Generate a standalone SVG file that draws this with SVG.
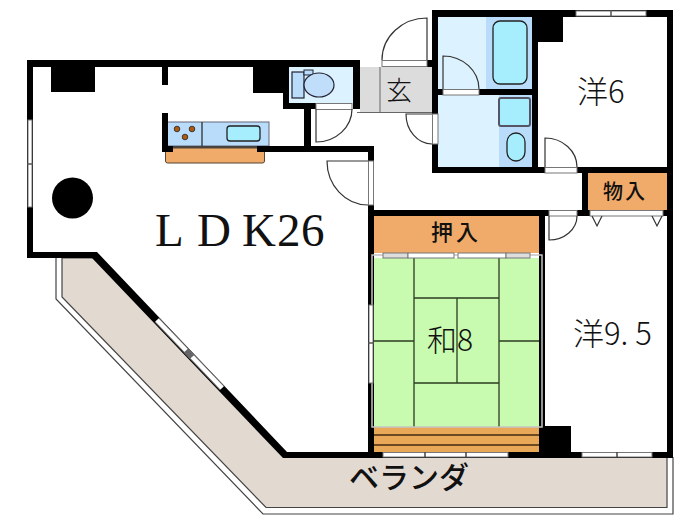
<svg xmlns="http://www.w3.org/2000/svg" width="700" height="525" viewBox="0 0 700 525">
<style>
.w{fill:#000}
.o{fill:#f0aa6a}
.p{fill:#fff;stroke:#777;stroke-width:1}
.l{fill:none;stroke:#333;stroke-width:1.2}
.m{stroke:#2c3c20;stroke-width:1.3;fill:none}
.j{font-family:"Noto Sans CJK JP","Noto Sans",sans-serif;fill:#111}
.s{font-family:"Liberation Serif",serif;fill:#111}
</style>
<rect width="700" height="525" fill="#fff"/>
<g id="balcony">
<path d="M56 258V299L263 514H673V457" fill="none" stroke="#444" stroke-width="1.2"/>
<path d="M62 258V297L266 507.500H667V457H285L95 258Z" fill="#e2d9d0" stroke="#444" stroke-width="1.200"/>
</g>
<g id="fills">
<rect x="438" y="17" width="94" height="72" fill="#ddf2ff"/>
<rect x="486" y="17" width="46" height="72" fill="#b8dcfa"/>
<rect x="493" y="21" width="34" height="63" rx="7" fill="#a6eefd" stroke="#222" stroke-width="1.300"/>
<rect x="438" y="95" width="94" height="72" fill="#ddf2ff"/>
<rect x="499" y="95" width="33" height="72" fill="#b8dcfa"/>
<rect x="499" y="98" width="31" height="28" rx="2" fill="#a6eefd" stroke="#556" stroke-width="2"/>
<rect x="507" y="133" width="18" height="28" rx="9" fill="#a6eefd" stroke="#222" stroke-width="1.300"/>
<rect x="289" y="67" width="64" height="36" fill="#ddf2ff"/>
<rect x="292" y="72" width="12" height="26" fill="#b8dcfa" stroke="#223" stroke-width="1.200"/>
<rect x="304" y="70" width="9" height="5" fill="#b8dcfa" stroke="#223" stroke-width="1"/>
<ellipse cx="319" cy="85" rx="15" ry="12" fill="#c0defa" stroke="#223" stroke-width="1.200"/>
<rect x="360" y="67" width="72" height="45" fill="#dcdcdc"/>
<path d="M357 112.500H432M380 67V112" fill="none" stroke="#666" stroke-width="1"/>
<rect x="167" y="122" width="102" height="24" fill="#b8dcfa" stroke="#667" stroke-width="1"/>
<path d="M202 122V146" stroke="#222" stroke-width="1.200"/>
<rect x="227" y="126" width="33" height="15" rx="3" fill="#a6eefd" stroke="#222" stroke-width="1.300"/>
<circle cx="177" cy="129" r="2.800" fill="#b05a10" stroke="#222" stroke-width=".8"/>
<circle cx="192" cy="129" r="2.800" fill="#b05a10" stroke="#222" stroke-width=".8"/>
<circle cx="185" cy="137" r="2.800" fill="#b05a10" stroke="#222" stroke-width=".8"/>
<path d="M167 147H265" stroke="#444" stroke-width="2"/>
<rect x="165.500" y="148" width="99" height="15" rx="2" class="o" stroke="#543" stroke-width="1"/>
<rect x="588" y="173" width="79" height="37" class="o"/>
<rect x="374" y="216" width="165" height="37" class="o"/>
</g>
<g id="tatami">
<rect x="374" y="258" width="165" height="169" fill="#c8fab0"/>
<path class="m" d="M414 258V427M499 258V427M414 298H499M414 383H499M457 298V383M374 341H414M499 341H539"/>
<rect x="374" y="427" width="165" height="25" fill="#e8a858"/>
<path d="M374 435H539M374 445H539" stroke="#442a10" stroke-width="1.300"/>
</g>
<g id="walls">
<path class="w" d="M27 60H283V67H27ZM27 60H33V258H27ZM27 252H97L287 452H673V458H283L92 258H27ZM51 67H95V92H51ZM253 67H283V93H253ZM283 60H360V67H283ZM283 60H289V109H283ZM283 103H316V109H283ZM353 60H360V109H353ZM304 109H311V152H304ZM162 67H168V85H162ZM162 113H168V152H162ZM162 146H173V152H162ZM257 146H374V152H257ZM368 146H374V205H368ZM368 205H374V452H368ZM427 60H438V67H427ZM432 10H673V17H432ZM432 10H438V173H432ZM532 10H538V173H532ZM438 89H532V95H438ZM432 167H667V173H432ZM537 17H563V42H537ZM667 10H673V458H667ZM582 173H588V216H582ZM368 210H673V216H368ZM539 216H545V452H539ZM539 426H571V452H539Z"/>
</g>
<g id="openings">
<rect x="382" y="60.500" width="45" height="6" class="p"/>
<rect x="316" y="103.500" width="36" height="6" class="p"/>
<rect x="432.500" y="114" width="5.500" height="30" class="p"/>
<rect x="443" y="89.500" width="36" height="5.500" class="p"/>
<rect x="545" y="167.500" width="32" height="5.500" class="p"/>
<rect x="549" y="210.500" width="28" height="5.500" class="p"/>
<rect x="590" y="210.500" width="73" height="5.500" class="p"/>
<rect x="368.500" y="161" width="5" height="44" class="p"/>
<path class="l" d="M427 60V18A45 42 0 0 0 382 60M443 89V56A36 33 0 0 1 479 89M316 109V142A36 33 0 0 0 352 109M432 114H406A26 30 0 0 0 432 144M368 161H327A41 44 0 0 0 368 205M545 167V138A32 29 0 0 1 577 167M549 216V240A28 24 0 0 0 577 216M592 216L597 226L602 216M652 216L657 226L662 216"/>
<rect x="28" y="120" width="4" height="87" class="p"/>
<path d="M27 164H33" stroke="#555" stroke-width="1.500"/>
<path d="M157 320L222 388" stroke="#666" stroke-width="6.500"/>
<path d="M157 320L222 388" stroke="#fff" stroke-width="4.500"/>
<path d="M186 350.500L192 357" stroke="#666" stroke-width="6"/>
<rect x="576" y="11" width="70" height="5" class="p"/>
<path d="M611 10V17" stroke="#555" stroke-width="1.500"/>
<rect x="372" y="255" width="170" height="172" fill="none" stroke="#c4c4c4" stroke-width="1.500"/>
<rect x="383" y="253" width="25" height="5" fill="#ddd" stroke="#777" stroke-width="1"/>
<rect x="408" y="253" width="46" height="5" class="p"/>
<rect x="458" y="253" width="48" height="5" class="p"/>
<rect x="506" y="253" width="24" height="5" fill="#ddd" stroke="#777" stroke-width="1"/>
<rect x="369" y="305" width="4" height="78" class="p"/>
<path d="M368 343H374" stroke="#555" stroke-width="1.500"/>
<rect x="383" y="452.500" width="125" height="4.500" class="p"/>
<path d="M425 452V457M466 452V457" stroke="#444" stroke-width="1.500"/>
<rect x="582" y="452.500" width="70" height="4.500" class="p"/>
<path d="M617 452V457" stroke="#444" stroke-width="1.500"/>
</g>
<g id="column"><circle cx="72.500" cy="198" r="20.500" fill="#000"/></g>
<g id="labels">
<text class="j" x="386" y="100" font-size="26" font-weight="300">玄</text>
<text class="s" x="155 197 242 277 301" y="246" font-size="47">LDK26</text>
<text class="j" x="577" y="103" font-size="31" font-weight="300">洋6</text>
<text class="j" x="427" y="351" font-size="30" font-weight="300">和8</text>
<text class="j" x="573" y="345" font-size="31" font-weight="300">洋9. 5</text>
<text class="j" x="431" y="240" font-size="22" letter-spacing="3" font-weight="500">押入</text>
<text class="j" x="603" y="199" font-size="20" letter-spacing="2" font-weight="500">物入</text>
<text class="j" x="349" y="488" font-size="30" font-weight="500">ベランダ</text>
</g>
</svg>
